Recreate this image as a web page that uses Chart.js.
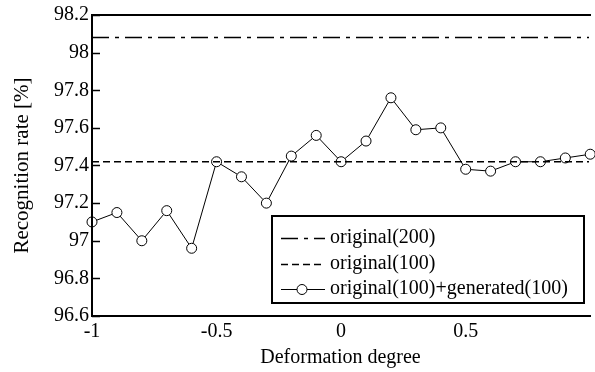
<!DOCTYPE html>
<html>
<head>
<meta charset="utf-8">
<script src="https://cdn.jsdelivr.net/npm/chart.js@4/dist/chart.umd.min.js"></script>
<style>
html,body{margin:0;padding:0;background:#fff;}
#wrap{width:595px;height:372px;position:relative;}
</style>
</head>
<body>
<div id="wrap"><canvas id="c" width="595" height="372"></canvas></div>
<script>
const degrees = [-1,-0.9,-0.8,-0.7,-0.6,-0.5,-0.4,-0.3,-0.2,-0.1,0,0.1,0.2,0.3,0.4,0.5,0.6,0.7,0.8,0.9,1.0];
const generated = [97.10,97.15,97.00,97.16,96.96,97.42,97.34,97.20,97.45,97.56,97.42,97.53,97.76,97.59,97.60,97.38,97.37,97.42,97.42,97.44,97.46];
const original200 = [98.08, 98.08];
const original100 = [97.42, 97.42];
const lineEnds = [-1, 1];
const xTicks = [-1,-0.5,0,0.5];
const yTicks = [96.6,96.8,97,97.2,97.4,97.6,97.8,98,98.2];
const seriesNames = ['original(200)','original(100)','original(100)+generated(100)'];

const FONT = 'Liberation Serif';

const framePlugin = {
  id: 'frame',
  afterDraw(chart) {
    const {ctx, chartArea: a, scales} = chart;
    ctx.save();
    ctx.strokeStyle = '#000';
    // inward y ticks
    ctx.lineWidth = 1.5;
    yTicks.forEach(v => {
      const y = Math.round(scales.y.getPixelForValue(v)) + 0.5;
      ctx.beginPath(); ctx.moveTo(a.left, y); ctx.lineTo(a.left + 8, y); ctx.stroke();
    });
    ctx.lineWidth = 2;
    ctx.beginPath();
    ctx.moveTo(a.right + 2, a.top); ctx.lineTo(a.left, a.top);
    ctx.lineTo(a.left, a.bottom); ctx.lineTo(a.right + 2, a.bottom);
    ctx.stroke();
    // legend
    const bx = 272, by = 216, bw = 312, bh = 87;
    ctx.fillStyle = '#fff';
    ctx.fillRect(bx, by, bw, bh);
    ctx.lineWidth = 2;
    ctx.strokeRect(bx, by, bw, bh);
    const rows = [238, 263.5, 289];
    chart.data.datasets.forEach((ds, i) => {
      const y = Math.round(rows[i]) + 0.5;
      ctx.save();
      ctx.lineWidth = ds.borderWidth;
      ctx.setLineDash(ds.borderDash || []);
      ctx.beginPath(); ctx.moveTo(281, y); ctx.lineTo(325, y); ctx.stroke();
      ctx.restore();
      if (ds.pointRadius > 0) {
        ctx.save();
        ctx.lineWidth = 1;
        ctx.fillStyle = '#fff';
        ctx.beginPath(); ctx.arc(302, y, ds.pointRadius, 0, Math.PI * 2); ctx.fill(); ctx.stroke();
        ctx.restore();
      }
      ctx.fillStyle = '#000';
      ctx.font = '20px "' + FONT + '"';
      ctx.textBaseline = 'middle';
      ctx.textAlign = 'left';
      ctx.fillText(ds.label, 330, rows[i]);
    });
    ctx.restore();
  }
};

new Chart(document.getElementById('c'), {
  type: 'line',
  data: {
    datasets: [
      {
        label: seriesNames[0],
        data: lineEnds.map((x, i) => ({x, y: original200[i]})),
        borderColor: '#000', borderWidth: 1.5, borderDash: [17, 6, 4, 6],
        pointRadius: 0, fill: false
      },
      {
        label: seriesNames[1],
        data: lineEnds.map((x, i) => ({x, y: original100[i]})),
        borderColor: '#000', borderWidth: 1.5, borderDash: [7, 4],
        pointRadius: 0, fill: false
      },
      {
        label: seriesNames[2],
        data: degrees.map((x, i) => ({x, y: generated[i]})),
        borderColor: '#000', borderWidth: 1,
        pointRadius: 5, pointBorderWidth: 1, pointBackgroundColor: '#fff', pointBorderColor: '#000',
        fill: false, tension: 0, clip: false
      }
    ]
  },
  options: {
    responsive: false,
    animation: false,
    layout: {padding: {left: 0, right: 0, top: 15, bottom: 0}},
    plugins: {legend: {display: false}, tooltip: {enabled: false}},
    scales: {
      x: {
        type: 'linear', min: -1, max: 0.995,
        afterBuildTicks: s => { s.ticks = xTicks.map(v => ({value: v})); },
        afterFit: s => { s.height = 56; },
        grid: {display: false, drawTicks: false},
        border: {display: false},
        ticks: {color: '#000', font: {family: FONT, size: 20}, padding: 4, maxRotation: 0,
          callback: v => String(v)},
        title: {display: true, text: 'Deformation degree', color: '#000', font: {family: FONT, size: 20}, padding: {top: 0, bottom: 2}}
      },
      y: {
        type: 'linear', min: 96.6, max: 98.2,
        afterBuildTicks: s => { s.ticks = yTicks.map(v => ({value: v})); },
        afterFit: s => { s.width = 92; },
        grid: {display: false, drawTicks: false},
        border: {display: false},
        ticks: {color: '#000', font: {family: FONT, size: 20}, padding: 3,
          callback: v => String(Math.round(v * 10) / 10)},
        title: {display: true, text: 'Recognition rate [%]', color: '#000', font: {family: FONT, size: 21}, padding: {top: 10, bottom: 0}}
      }
    }
  },
  plugins: [framePlugin]
});
</script>
</body>
</html>
